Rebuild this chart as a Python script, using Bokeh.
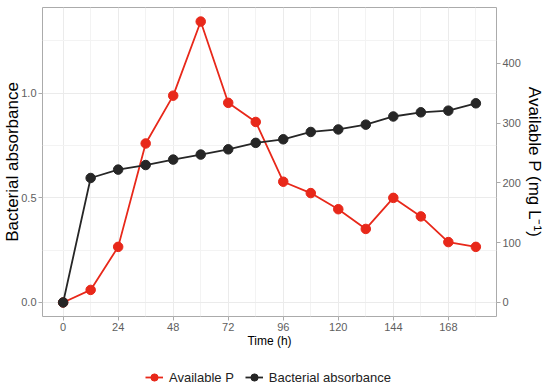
from bokeh.plotting import figure
from bokeh.layouts import column
from bokeh.models import (ColumnDataSource, Range1d, LinearAxis, FixedTicker,
                          PrintfTickFormatter, Legend, LegendItem)
from bokeh.embed import file_html
from bokeh.resources import INLINE

time_h = [0, 12, 24, 36, 48, 60, 72, 84, 96, 108, 120, 132, 144, 156, 168, 180]
available_p = [0, 21, 93, 266, 346, 470, 334, 302, 202, 183, 156, 123, 175, 144, 101, 93]
bact_abs = [0.0, 0.595, 0.635, 0.657, 0.683, 0.707, 0.732, 0.763, 0.780, 0.815,
            0.827, 0.850, 0.889, 0.909, 0.917, 0.952]
x_ticks = [0, 24, 48, 72, 96, 120, 144, 168]
x_minor = [12, 36, 60, 84, 108, 132, 156, 180]
y_ticks = [0.0, 0.5, 1.0]
y_minor = [0.25, 0.75, 1.25]
p_ticks = [0, 100, 200, 300, 400]
series_names = ["Available P", "Bacterial absorbance"]
scale = 350.0

RED = "#E8281A"
BLACK = "#262626"
GRID = "#EBEBEB"
TXT = "#5E5E5E"
FONT = "Liberation Sans"

src = ColumnDataSource(dict(t=time_h, p=available_p, a=bact_abs))

ymax = max(available_p) / scale
pad = 0.05 * ymax
p = figure(frame_width=454, frame_height=309, output_backend="svg", toolbar_location=None,
           x_range=Range1d(-9, 189), y_range=Range1d(-pad, ymax + pad),
           min_border_left=0, min_border_right=0, min_border_top=7,
           min_border_bottom=0)
p.extra_y_ranges = {"p": Range1d(-pad * scale, (ymax + pad) * scale)}

p.background_fill_color = "white"
p.border_fill_color = "white"
p.outline_line_color = "#ABABAB"
p.outline_line_width = 1

# grids
p.xgrid.ticker = FixedTicker(ticks=x_ticks, minor_ticks=x_minor)
p.ygrid.ticker = FixedTicker(ticks=y_ticks, minor_ticks=y_minor)
for g in (p.xgrid, p.ygrid):
    g.grid_line_color = GRID
    g.grid_line_width = 1
    g.minor_grid_line_color = "#F3F3F3"
    g.minor_grid_line_width = 1

# axes
xa = p.xaxis[0]
xa.ticker = FixedTicker(ticks=x_ticks, minor_ticks=x_minor)
ya = p.yaxis[0]
ya.ticker = FixedTicker(ticks=y_ticks, minor_ticks=y_minor)
ya.formatter = PrintfTickFormatter(format="%.1f")
ra = LinearAxis(y_range_name="p", ticker=FixedTicker(ticks=p_ticks))
p.add_layout(ra, "right")

xa.axis_label = "Time (h)"
ya.axis_label = "Bacterial absorbance"
ra.axis_label = "Available P (mg L\u207b\u00b9)"

for ax in (xa, ya, ra):
    ax.axis_line_color = None
    ax.major_tick_line_color = "#ABABAB"
    ax.major_tick_in = 0
    ax.major_tick_out = 4
    ax.minor_tick_line_color = None
    ax.major_label_text_font = FONT
    ax.major_label_text_font_size = "11px"
    ax.major_label_text_color = TXT
    ax.major_label_standoff = 2
    ax.axis_label_text_font = FONT
    ax.axis_label_text_font_style = "normal"
    ax.axis_label_text_color = "black"
xa.axis_label_text_font_size = "12px"
xa.axis_label_standoff = 0
ya.axis_label_text_font_size = "17px"
ya.axis_label_standoff = -4
ra.axis_label_text_font_size = "17px"
ra.axis_label_standoff = 1

# data
p.line("t", "p", source=src, y_range_name="p", color=RED, line_width=1.8)
p.scatter("t", "p", source=src, y_range_name="p", color=RED, size=9.5)
p.line("t", "a", source=src, color=BLACK, line_width=1.8)
p.scatter("t", "a", source=src, color=BLACK, size=9.5)

# separate strip holding the legend (below the chart)
lg = figure(frame_width=534, frame_height=50, output_backend="svg", toolbar_location=None,
            x_range=Range1d(0, 1), y_range=Range1d(0, 1),
            min_border_left=0, min_border_right=0, min_border_top=0, min_border_bottom=0)
lg.axis.visible = False
lg.grid.visible = False
lg.outline_line_color = None
lg.background_fill_color = "white"
lg.border_fill_color = "white"
items = []
for name, col, ycol in zip(series_names, [RED, BLACK], ["p", "a"]):
    rl = lg.line("t", ycol, source=src, color=col, line_width=1.8, visible=False)
    rc = lg.scatter("t", ycol, source=src, marker="cross", line_color=col,
                    line_width=1.8, size=17, visible=False)
    rp = lg.scatter("t", ycol, source=src, color=col, size=9, visible=False)
    items.append(LegendItem(label=name, renderers=[rl, rc, rp]))

legend = Legend(items=items, orientation="horizontal", location=(145, 14))
legend.label_text_font = FONT
legend.label_text_font_size = "13px"
legend.label_text_color = "#222222"
legend.glyph_width = 18
legend.glyph_height = 18
legend.label_height = 18
legend.label_standoff = 6
legend.spacing = 11
legend.padding = 0
legend.margin = 0
legend.border_line_color = None
legend.background_fill_alpha = 0
legend.inactive_fill_alpha = 0
lg.add_layout(legend, "center")

layout = column(p, lg, spacing=0)
open("out.html", "w").write(file_html(layout, INLINE))
